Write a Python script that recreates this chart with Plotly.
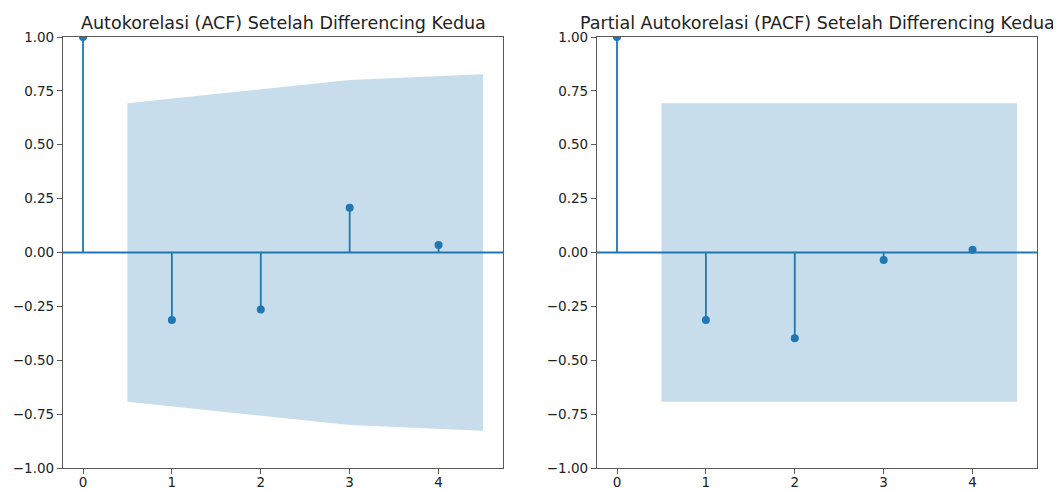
import plotly.graph_objects as go

# ---- data ----
lags = [0, 1, 2, 3, 4]
acf_values = [1.0, -0.313, -0.265, 0.208, 0.035]
pacf_values = [1.0, -0.313, -0.398, -0.035, 0.013]
band_x = [0.5, 2, 3, 4.5]
acf_band = [0.693, 0.758, 0.801, 0.827]
pacf_band = [0.693, 0.693, 0.693, 0.693]
titles = ["Autokorelasi (ACF) Setelah Differencing Kedua",
          "Partial Autokorelasi (PACF) Setelah Differencing Kedua"]
y_tickvals = [1.0, 0.75, 0.5, 0.25, 0.0, -0.25, -0.5, -0.75, -1.0]
y_ticktext = [f"{v:.2f}".replace("-", "\u2212") for v in y_tickvals]
x_tickvals = [0, 1, 2, 3, 4]

C0 = "#1f77b4"
BAND = "rgba(31,119,180,0.25)"
SPINE = "#5a5a5a"
TEXT = "#222222"
OFF = 8  # page body margin
W, H = 1061 - OFF, 491 - OFF

fig = go.Figure()

x_domains = [[(63 - OFF) / W, (503 - OFF) / W], [(597 - OFF) / W, (1037 - OFF) / W]]
y_domain = [1 - (468 - OFF) / H, 1 - (37 - OFF) / H]

panels = [(acf_values, acf_band), (pacf_values, pacf_band)]
for i, (vals, band) in enumerate(panels):
    xa = "x" if i == 0 else "x2"
    ya = "y" if i == 0 else "y2"
    # confidence band
    fig.add_trace(go.Scatter(x=band_x, y=band, mode="lines", line=dict(width=0),
                             hoverinfo="skip", showlegend=False, xaxis=xa, yaxis=ya))
    fig.add_trace(go.Scatter(x=band_x, y=[-b for b in band], mode="lines", line=dict(width=0),
                             fill="tonexty", fillcolor=BAND, hoverinfo="skip",
                             showlegend=False, xaxis=xa, yaxis=ya))
    # stems
    sx, sy = [], []
    for k, v in zip(lags, vals):
        sx += [k, k, None]
        sy += [0, v, None]
    fig.add_trace(go.Scatter(x=sx, y=sy, mode="lines", line=dict(color=C0, width=1.8),
                             showlegend=False, xaxis=xa, yaxis=ya))
    # markers
    fig.add_trace(go.Scatter(x=lags, y=vals, mode="markers",
                             marker=dict(color=C0, size=8), showlegend=False,
                             xaxis=xa, yaxis=ya, cliponaxis=True))
    # zero line
    fig.add_shape(type="line", xref=f"{xa} domain", yref=ya, x0=0, x1=1, y0=0, y1=0,
                  line=dict(color=C0, width=1.8), layer="above")
    # title
    fig.add_annotation(text=titles[i], xref=f"{xa} domain", yref="paper",
                       x=0.5, y=y_domain[1], xanchor="center", yanchor="bottom",
                       yshift=2, showarrow=False,
                       font=dict(family="DejaVu Sans", size=17.5, color=TEXT))

axis_common = dict(showgrid=False, zeroline=False, showline=True, mirror=True,
                   linecolor=SPINE, linewidth=1.2, ticks="outside", ticklen=5,
                   tickwidth=1.2, tickcolor=SPINE, automargin=False,
                   tickfont=dict(family="DejaVu Sans", size=13.5, color=TEXT))

fig.update_layout(
    width=W, height=H,
    margin=dict(l=0, r=0, t=0, b=0, autoexpand=False),
    plot_bgcolor="white", paper_bgcolor="white",
    showlegend=False,
    xaxis=dict(domain=x_domains[0], range=[-0.225, 4.725], tickvals=x_tickvals,
               anchor="y", ticklabelstandoff=-3, **axis_common),
    yaxis=dict(domain=y_domain, range=[-1, 1], tickvals=y_tickvals, ticktext=y_ticktext,
               anchor="x", **axis_common),
    xaxis2=dict(domain=x_domains[1], range=[-0.225, 4.725], tickvals=x_tickvals,
                anchor="y2", ticklabelstandoff=-3, **axis_common),
    yaxis2=dict(domain=y_domain, range=[-1, 1], tickvals=y_tickvals, ticktext=y_ticktext,
                anchor="x2", **axis_common),
)

fig.write_html("out.html")
